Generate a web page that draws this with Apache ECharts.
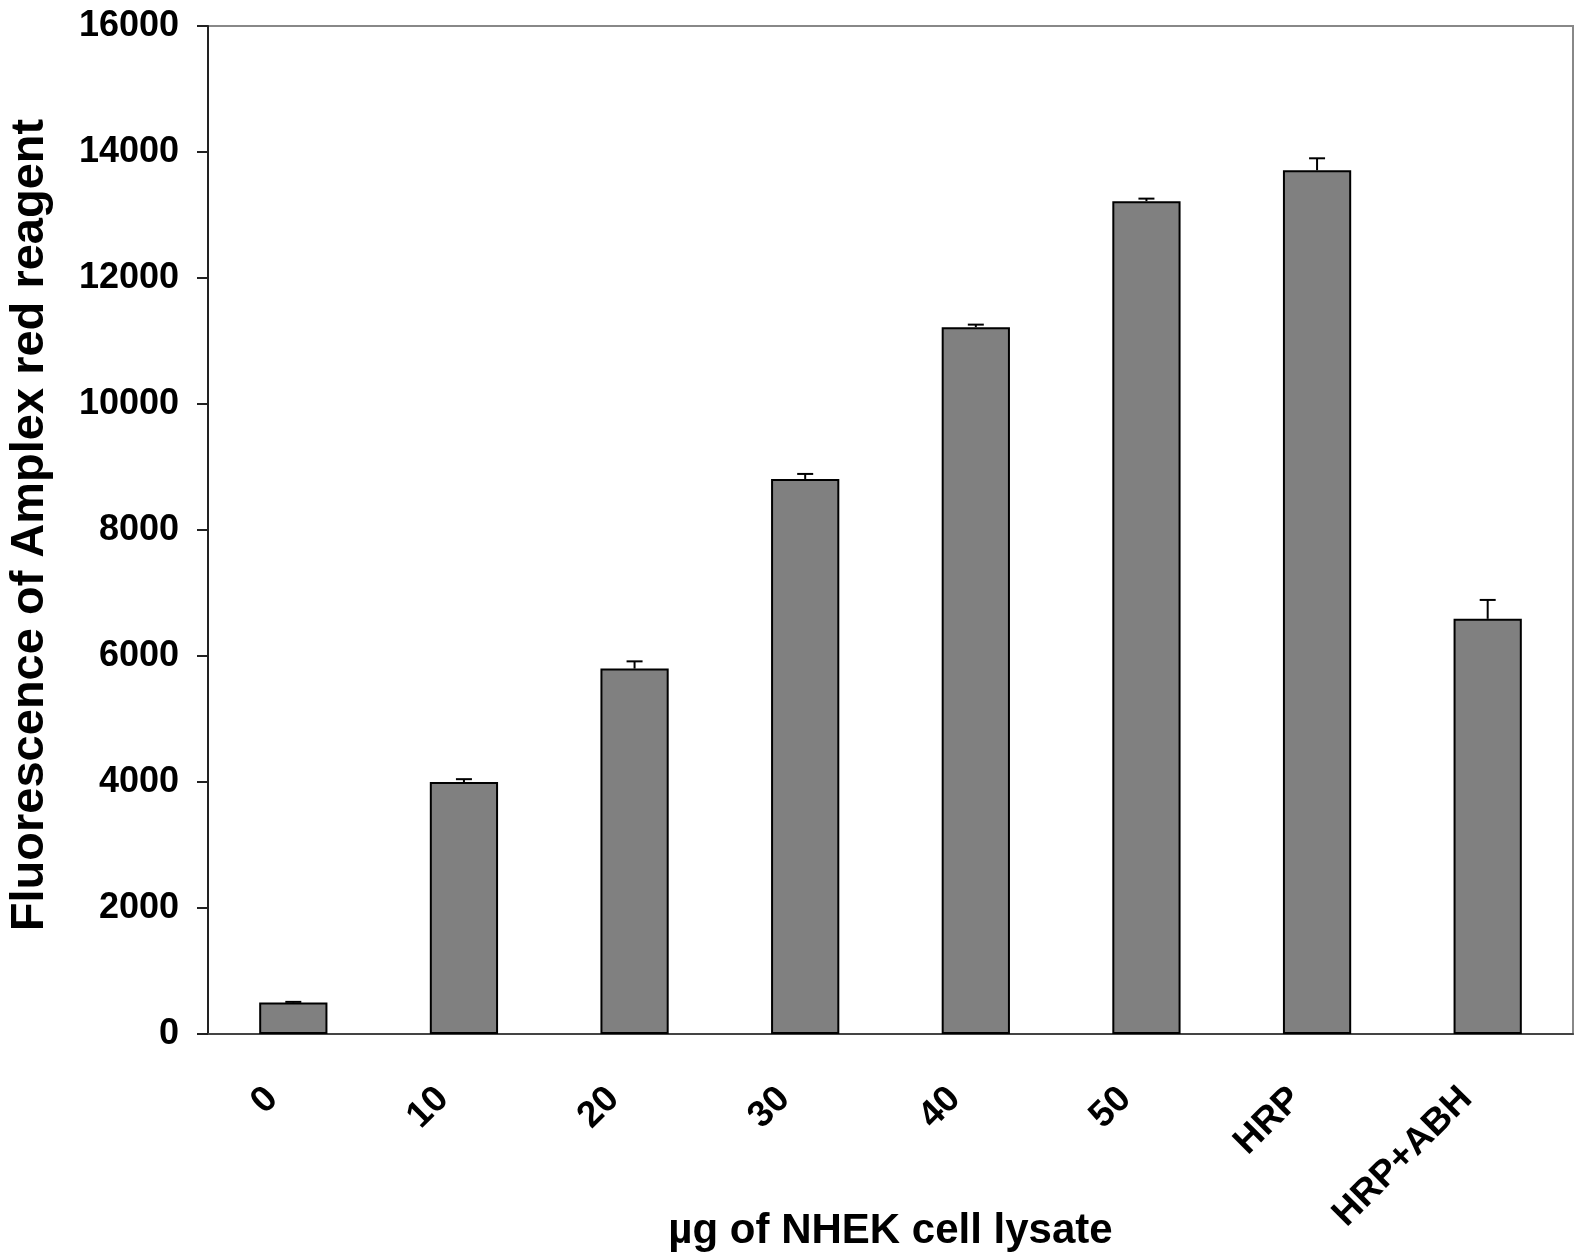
<!DOCTYPE html>
<html>
<head>
<meta charset="utf-8">
<script src="https://cdn.jsdelivr.net/npm/echarts@6/dist/echarts.min.js"></script>
<style>
  html, body { margin: 0; padding: 0; background: #fff; }
  #chart { width: 1574px; height: 1259px; }
</style>
</head>
<body>
<div id="chart"></div>
<script>
const categories = ['0', '10', '20', '30', '40', '50', 'HRP', 'HRP+ABH'];
const values = [500, 4000, 5800, 8810, 11220, 13220, 13710, 6590];
const errors = [10, 45, 115, 80, 40, 40, 190, 300];
const yTicks = [0, 2000, 4000, 6000, 8000, 10000, 12000, 14000, 16000];
const xTitle = 'µg of NHEK cell lysate';
const yTitle = 'Fluorescence of Amplex red reagent';

const FONT = 'Liberation Sans, Arial, sans-serif';
const chart = echarts.init(document.getElementById('chart'), null, { renderer: 'canvas' });

const errData = categories.map((c, i) => [i, values[i], values[i] + errors[i]]);

chart.setOption({
  backgroundColor: '#fff',
  animation: false,
  grid: {
    left: 208, right: 1, top: 26, bottom: 225,
    outerBoundsMode: 'none',
    containLabel: false,
    show: true, borderColor: '#888', borderWidth: 2, backgroundColor: 'transparent'
  },
  xAxis: {
    type: 'category',
    data: categories,
    name: xTitle,
    nameLocation: 'middle',
    nameGap: 176,
    nameMoveOverlap: false,
    nameTextStyle: { fontFamily: FONT, fontWeight: 'bold', fontSize: 42, color: '#000' },
    axisLine: { show: true, lineStyle: { color: '#444', width: 2 } },
    axisTick: { show: false },
    axisLabel: {
      rotate: 45, interval: 0, margin: 38,
      fontFamily: FONT, fontWeight: 'bold', fontSize: 37, color: '#000',
      padding: [0, 30, 0, 0]
    },
    splitLine: { show: false }
  },
  yAxis: {
    type: 'value',
    min: yTicks[0], max: yTicks[yTicks.length - 1], interval: 2000,
    name: yTitle,
    nameLocation: 'middle',
    nameGap: 154,
    nameMoveOverlap: false,
    nameTextStyle: { fontFamily: FONT, fontWeight: 'bold', fontSize: 47, color: '#000', padding: [0, 0, 0, 10] },
    axisLine: { show: true, lineStyle: { color: '#222', width: 2 } },
    axisTick: { show: true, inside: false, length: 11, lineStyle: { color: '#222', width: 2 } },
    axisLabel: {
      margin: 29,
      fontFamily: FONT, fontWeight: 'bold', fontSize: 36, color: '#000',
      formatter: function (v) { return String(v); }
    },
    splitLine: { show: false }
  },
  series: [
    {
      type: 'bar',
      data: values,
      barWidth: '40%',
      itemStyle: { color: '#808080', borderColor: '#000', borderWidth: 2 },
      z: 2
    },
    {
      type: 'custom',
      data: errData,
      z: 1,
      renderItem: function (params, api) {
        const x = api.value(0);
        const p0 = api.coord([x, api.value(1)]);
        const p1 = api.coord([x, api.value(2)]);
        const half = 8;
        return {
          type: 'group',
          children: [
            { type: 'line', shape: { x1: p0[0], y1: p0[1], x2: p1[0], y2: p1[1] }, style: { stroke: '#000', lineWidth: 2 } },
            { type: 'line', shape: { x1: p1[0] - half, y1: p1[1], x2: p1[0] + half, y2: p1[1] }, style: { stroke: '#000', lineWidth: 2 } }
          ]
        };
      }
    }
  ]
});
</script>
</body>
</html>
